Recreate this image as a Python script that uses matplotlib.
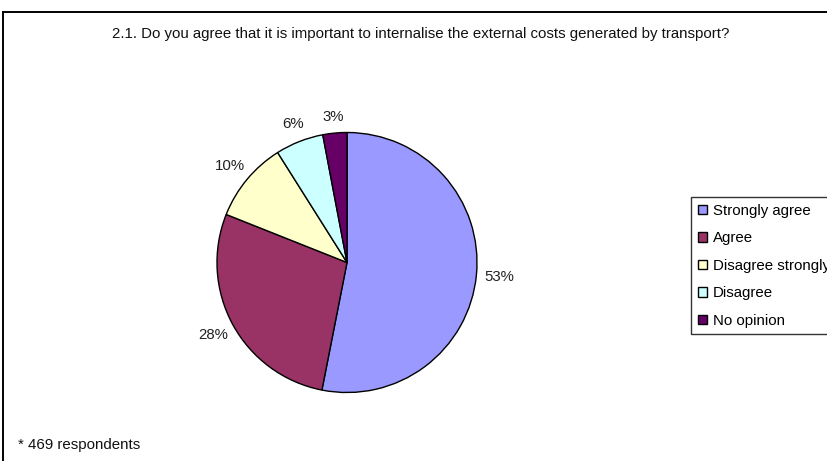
import numpy as np
import matplotlib.pyplot as plt
from matplotlib.lines import Line2D

plt.rcParams['font.family'] = ['Liberation Sans', 'DejaVu Sans']

# donnees du graphique
categorias = ['Strongly agree', 'Agree', 'Disagree strongly', 'Disagree', 'No opinion']
respostas = [249, 131, 47, 28, 14]   # 469 respondentes
cores = ['#9999FF', '#993366', '#FFFFCC', '#CCFFFF', '#660066']
titulo = '2.1. Do you agree that it is important to internalise the external costs generated by transport?'
nota = '* 469 respondents'

W, H = 828, 461
fs = 10.8
fig = plt.figure(figsize=(W / 100, H / 100), dpi=100)

# moldura do grafico (so topo e esquerda aparecem)
fig.add_artist(Line2D([3 / W, 1.0], [1 - 12 / H, 1 - 12 / H], color='black', lw=1.4))
fig.add_artist(Line2D([3 / W, 3 / W], [0, 1 - 12 / H], color='black', lw=1.4))

# pizza
cx, cy, r = 347, 262.5, 130
ax = fig.add_axes([(cx - r) / W, 1 - (cy + r) / H, 2 * r / W, 2 * r / H])
wedges, _ = ax.pie(respostas, colors=cores, startangle=90, counterclock=False,
                   wedgeprops=dict(edgecolor='black', linewidth=1.0))
ax.set_xlim(-1, 1)
ax.set_ylim(-1, 1)
ax.set_aspect('equal')
ax.axis('off')

# rotulos de porcentagem fora da pizza (estilo Excel)
total = sum(respostas)
for w, v in zip(wedges, respostas):
    ang = np.deg2rad((w.theta1 + w.theta2) / 2)
    d = 1.12 + 0.06 * abs(np.cos(ang))
    ax.text(d * np.cos(ang), d * np.sin(ang), f'{v / total * 100:.0f}%',
            ha='center', va='center', fontsize=fs, color='#222222')

fig.text(421 / W, 1 - 34 / H, titulo, ha='center', va='center', fontsize=fs, color='#111111')
fig.text(18 / W, 1 - 445 / H, nota, ha='left', va='center', fontsize=fs, color='#111111')

# legenda cortada na borda direita, como no original
leg = fig.legend(wedges, categorias, loc='upper left',
                 bbox_to_anchor=(691 / W, 1 - 197 / H), fontsize=fs,
                 frameon=True, fancybox=False, edgecolor='black',
                 handlelength=0.62, handleheight=0.62, handletextpad=0.4,
                 labelspacing=0.9, borderpad=0.45, borderaxespad=0)
leg.get_frame().set_linewidth(1.0)
for h in leg.legend_handles:
    h.set_edgecolor('black')

fig.savefig('out.png', dpi=100)
